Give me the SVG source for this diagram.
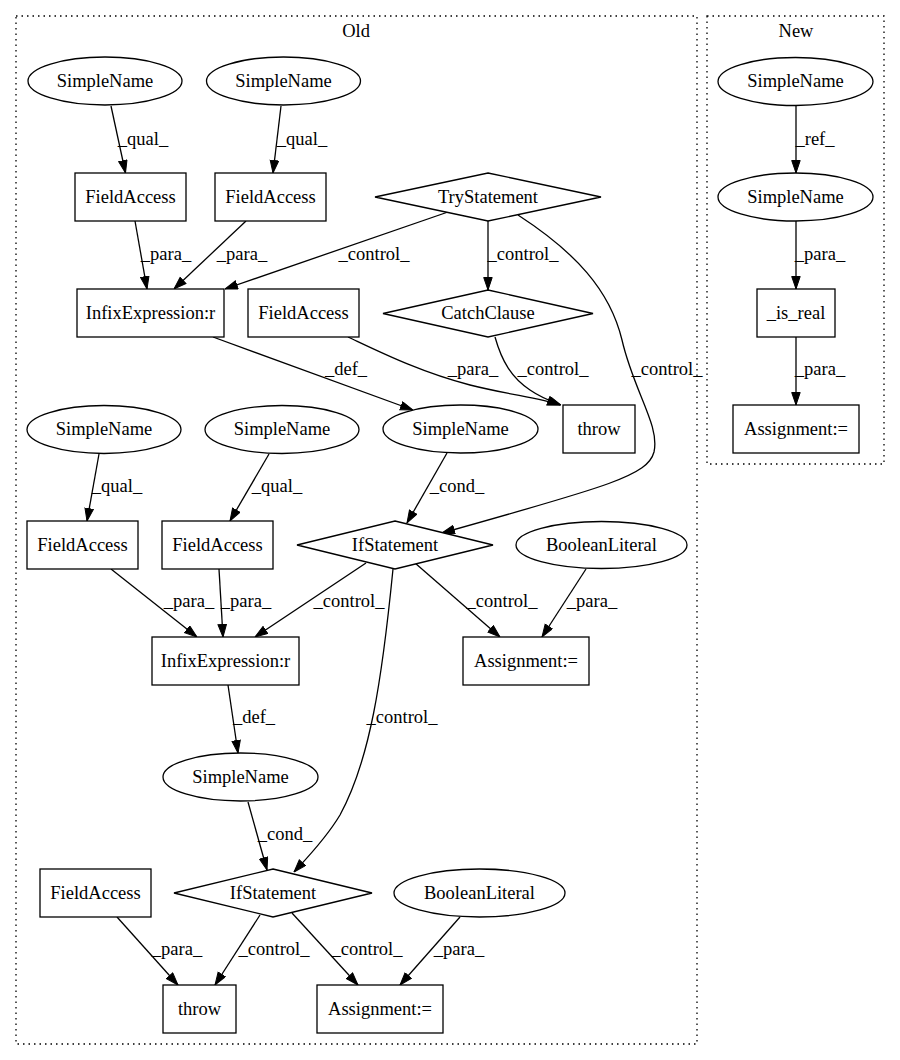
<svg xmlns="http://www.w3.org/2000/svg" width="900" height="1060" viewBox="0 0 900 1060">
<defs>
<marker id="ah" markerWidth="13" markerHeight="10" refX="13" refY="4.7" orient="auto" markerUnits="userSpaceOnUse">
<path d="M0.5,0.5 L13,4.7 L0.5,9 z" fill="#000" stroke="#000" stroke-width="1"/>
</marker>
<style>
text{font-family:"Liberation Serif","Times New Roman",serif;font-size:18.5px;text-anchor:middle;fill:#000}
.n{fill:#fff;stroke:#000;stroke-width:1.3}
.e{fill:none;stroke:#000;stroke-width:1.3;marker-end:url(#ah)}
.c{fill:none;stroke:#000;stroke-width:1.3;stroke-dasharray:1.5,4}
</style>
</defs>
<rect width="900" height="1060" fill="#fff"/>
<g id="cluster_old">
<rect class="c" x="16" y="16" width="681" height="1028"/>
<text x="356" y="37">Old</text>
</g>
<g id="cluster_new">
<rect class="c" x="707" y="16" width="177" height="448"/>
<text x="796" y="37">New</text>
</g>
<g id="edges">
<path class="e" d="M111,106 L125.5,173"/>
<text x="143" y="145">_qual_</text>
<path class="e" d="M281,106 L273,173"/>
<text x="302" y="145">_qual_</text>
<path class="e" d="M135,221 L147,289"/>
<text x="166" y="260">_para_</text>
<path class="e" d="M246,221 L174,289"/>
<text x="242" y="260">_para_</text>
<path class="e" d="M448,212 L225,289"/>
<text x="374" y="260">_control_</text>
<path class="e" d="M488,221 L488,290"/>
<text x="523" y="260">_control_</text>
<path class="e" d="M518,215 C575,252 610,290 622,340 C634,392 660,425 654,452 C648,475 610,486 442,533"/>
<text x="667" y="375">_control_</text>
<path class="e" d="M213,337 L413,410"/>
<text x="346" y="375">_def_</text>
<path class="e" d="M348,337 C380,352 420,372 470,385 C510,395 540,398 560,405"/>
<text x="473" y="375">_para_</text>
<path class="e" d="M495,337 C502,362 512,378 530,390 C540,397 550,401 561,405"/>
<text x="553" y="375">_control_</text>
<path class="e" d="M447,453 L407,523"/>
<text x="457" y="492">_cond_</text>
<path class="e" d="M99,454 L87,521"/>
<text x="117" y="492">_qual_</text>
<path class="e" d="M269,454 L230,521"/>
<text x="277" y="492">_qual_</text>
<path class="e" d="M111,569 L197,637"/>
<text x="189" y="607">_para_</text>
<path class="e" d="M219,569 L223,637"/>
<text x="246" y="607">_para_</text>
<path class="e" d="M366,563 L255,637"/>
<text x="349" y="607">_control_</text>
<path class="e" d="M415,563 L500,637"/>
<text x="502" y="607">_control_</text>
<path class="e" d="M586,569 L542,637"/>
<text x="592" y="607">_para_</text>
<path class="e" d="M393,569 C382,680 370,760 340,815 C325,840 305,860 294,872"/>
<text x="402" y="723">_control_</text>
<path class="e" d="M228,685 L238,753"/>
<text x="254" y="723">_def_</text>
<path class="e" d="M248,802 L267,870"/>
<text x="285" y="840">_cond_</text>
<path class="e" d="M117,917 L178,985"/>
<text x="177" y="955">_para_</text>
<path class="e" d="M260,915 L215,985"/>
<text x="274" y="955">_control_</text>
<path class="e" d="M292,913 L358,985"/>
<text x="367" y="955">_control_</text>
<path class="e" d="M460,917 L400,985"/>
<text x="459" y="955">_para_</text>
<path class="e" d="M796,105 L796,173"/>
<text x="815" y="145">_ref_</text>
<path class="e" d="M796,221 L796,289"/>
<text x="820" y="260">_para_</text>
<path class="e" d="M796,337 L796,405"/>
<text x="820" y="375">_para_</text>
</g>
<g id="n1"><ellipse class="n" cx="105" cy="81" rx="77" ry="24"/><text x="105" y="87">SimpleName</text></g>
<g id="n2"><ellipse class="n" cx="283.5" cy="81" rx="77" ry="24"/><text x="283.5" y="87">SimpleName</text></g>
<g id="n3"><rect class="n" x="75" y="173" width="111" height="48"/><text x="130.5" y="203">FieldAccess</text></g>
<g id="n4"><rect class="n" x="215" y="173" width="111" height="48"/><text x="270.5" y="203">FieldAccess</text></g>
<g id="n5"><polygon class="n" points="488,173 601,197 488,221 375,197"/><text x="488" y="203">TryStatement</text></g>
<g id="n6"><rect class="n" x="77" y="289" width="147" height="48"/><text x="150.5" y="319">InfixExpression:r</text></g>
<g id="n7"><rect class="n" x="248" y="289" width="111" height="48"/><text x="303.5" y="319">FieldAccess</text></g>
<g id="n8"><polygon class="n" points="488,290 593,313.5 488,337 383,313.5"/><text x="488" y="319">CatchClause</text></g>
<g id="n9"><ellipse class="n" cx="460.5" cy="429" rx="77.5" ry="24"/><text x="460.5" y="435">SimpleName</text></g>
<g id="n10"><rect class="n" x="563" y="405" width="72" height="48"/><text x="599" y="435">throw</text></g>
<g id="n11"><ellipse class="n" cx="104" cy="429.5" rx="77" ry="24"/><text x="104" y="435">SimpleName</text></g>
<g id="n12"><ellipse class="n" cx="282" cy="429.5" rx="77" ry="24"/><text x="282" y="435">SimpleName</text></g>
<g id="n13"><polygon class="n" points="395,521 493,545 395,569 297,545"/><text x="395" y="551">IfStatement</text></g>
<g id="n14"><ellipse class="n" cx="601.5" cy="545" rx="85.5" ry="23.5"/><text x="601.5" y="551">BooleanLiteral</text></g>
<g id="n15"><rect class="n" x="27" y="521" width="111" height="48"/><text x="82.5" y="551">FieldAccess</text></g>
<g id="n16"><rect class="n" x="162" y="521" width="111" height="48"/><text x="217.5" y="551">FieldAccess</text></g>
<g id="n17"><rect class="n" x="152" y="637" width="147" height="48"/><text x="225.5" y="667">InfixExpression:r</text></g>
<g id="n18"><rect class="n" x="463" y="637" width="126" height="48"/><text x="526" y="667">Assignment:=</text></g>
<g id="n19"><ellipse class="n" cx="240.5" cy="777" rx="77.5" ry="24"/><text x="240.5" y="783">SimpleName</text></g>
<g id="n20"><rect class="n" x="40" y="869" width="111" height="48"/><text x="95.5" y="899">FieldAccess</text></g>
<g id="n21"><polygon class="n" points="273,869 372,893 273,917 174,893"/><text x="273" y="899">IfStatement</text></g>
<g id="n22"><ellipse class="n" cx="479.5" cy="893" rx="85.5" ry="24"/><text x="479.5" y="899">BooleanLiteral</text></g>
<g id="n23"><rect class="n" x="163" y="985" width="73" height="48"/><text x="199.5" y="1015">throw</text></g>
<g id="n24"><rect class="n" x="317" y="985" width="126" height="48"/><text x="380" y="1015">Assignment:=</text></g>
<g id="n25"><ellipse class="n" cx="795.5" cy="81.5" rx="77.5" ry="24"/><text x="795.5" y="87">SimpleName</text></g>
<g id="n26"><ellipse class="n" cx="795.5" cy="197" rx="77.5" ry="24"/><text x="795.5" y="203">SimpleName</text></g>
<g id="n27"><rect class="n" x="757" y="289" width="78" height="48"/><text x="796" y="319">_is_real</text></g>
<g id="n28"><rect class="n" x="733" y="405" width="126" height="48"/><text x="796" y="435">Assignment:=</text></g>
</svg>
